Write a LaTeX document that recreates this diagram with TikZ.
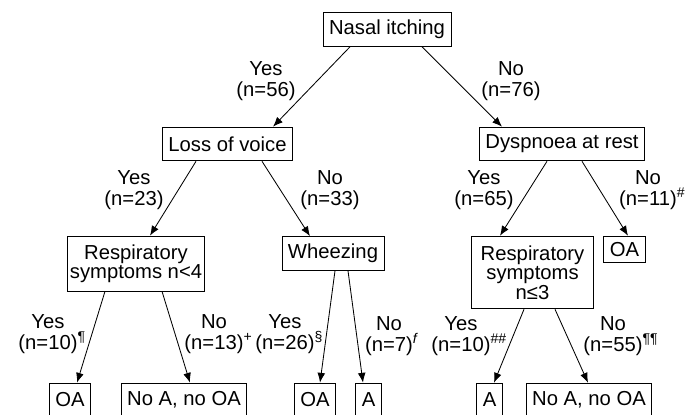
\documentclass[tikz,border=0pt]{standalone}
\usepackage{fontspec}
\setmainfont{Liberation Sans}
\usetikzlibrary{arrows.meta,calc}

\tikzset{
  txt/.style={font=\fontsize{14.4}{14.6}\selectfont, align=center, inner sep=0pt},
  box/.style={draw, line width=0.6pt, font=\fontsize{14.4}{13.8}\selectfont,
    align=center, inner xsep=4.3pt, inner ysep=1pt, minimum height=24pt},
  arr/.style={-{Latex[length=7pt,width=5.5pt]}, line width=0.6pt}
}
\newcommand{\sups}[1]{\rlap{\textsuperscript{#1}}}

\begin{document}
\begin{tikzpicture}[x=0.025cm, y=-0.025cm]
	\useasboundingbox (0,0) rectangle (696,414);
	\clip (0,0) rectangle (696,414);
	% boxes
	\node [box] (nasal) at (387, 29.5) {Nasal itching};
	\node [box] (voice) at (227.5, 144) {Loss of voice};
	\node [box] (dysp) at (562, 144) {Dyspnoea at rest};
	\node [box, inner xsep=1.5pt, minimum width=97.8pt, minimum height=39pt] (resp1) at (136, 263.5) {Respiratory\\symptoms n<4};
	\node [box] (wheeze) at (333, 253.5) {Wheezing};
	\node [box, minimum width=87pt, minimum height=51.7pt] (resp2) at (532.5, 272.5) {Respiratory\\symptoms\\n≤3};
	\node [box, minimum height=19pt] (oa) at (624.5, 249.5) {OA};
	\node [box] (oa1) at (70, 400) {OA};
	\node [box] (noa1) at (184, 400) {No A, no OA};
	\node [box] (oa2) at (315, 400) {OA};
	\node [box] (a1) at (368.5, 400) {A};
	\node [box] (a2) at (489.5, 400) {A};
	\node [box] (noa2) at (589, 400) {No A, no OA};
	% arrows
	\draw [arr] ($(nasal.south)+(-37,0)$) -- ($(voice.north)+(45.5,0)$);
	\draw [arr] ($(nasal.south)+(35,0)$) -- ($(dysp.north)+(-60,0)$);
	\draw [arr] ($(voice.south)+(-31.5,0)$) -- ($(resp1.north)+(14,0)$);
	\draw [arr] ($(voice.south)+(34.5,0)$) -- ($(wheeze.north)+(-23,0)$);
	\draw [arr] ($(dysp.south)+(-15,0)$) -- ($(resp2.north)+(-32.5,0)$);
	\draw [arr] ($(dysp.south)+(20,0)$) -- ($(oa.north)+(3.5,0)$);
	\draw [arr] ($(resp1.south)+(-31,0)$) -- ($(oa1.north)+(7,0)$);
	\draw [arr] ($(resp1.south)+(26,0)$) -- ($(noa1.north)+(6,0)$);
	\draw [arr] ($(wheeze.south)+(2,0)$) -- ($(oa2.north)+(5,0)$);
	\draw [arr] ($(wheeze.south)+(15,0)$) -- ($(a1.north)+(-5.5,0)$);
	\draw [arr] ($(resp2.south)+(-8.5,0)$) -- ($(a2.north)+(4.5,0)$);
	\draw [arr] ($(resp2.south)+(22.5,0)$) -- ($(noa2.north)+(-1,0)$);
	% labels
	\node [txt] (l56) at (266, 81) {Yes\\(n=56)};
	\node [txt] (l76) at (511, 81) {No\\(n=76)};
	\node [txt] (l23) at (134, 190) {Yes\\(n=23)};
	\node [txt] (l33) at (330, 190) {No\\(n=33)};
	\node [txt] (l65) at (484, 190) {Yes\\(n=65)};
	\node [txt] (l11) at (648, 190) {No\\(n=11)\sups{\#}};
	\node [txt] (l10a) at (48, 334) {Yes\\(n=10)\sups{¶}};
	\node [txt] (l13) at (214, 334) {No\\(n=13)\sups{+}};
	\node [txt] (l26) at (285, 334) {Yes\\(n=26)\sups{§}};
	\node [txt] (l7) at (389, 336) {No\\(n=7)\sups{\itshape f}};
	\node [txt] (l10b) at (461, 336) {Yes\\(n=10)\sups{\#\#}};
	\node [txt] (l55) at (613, 336) {No\\(n=55)\sups{¶¶}};
\end{tikzpicture}
\end{document}
